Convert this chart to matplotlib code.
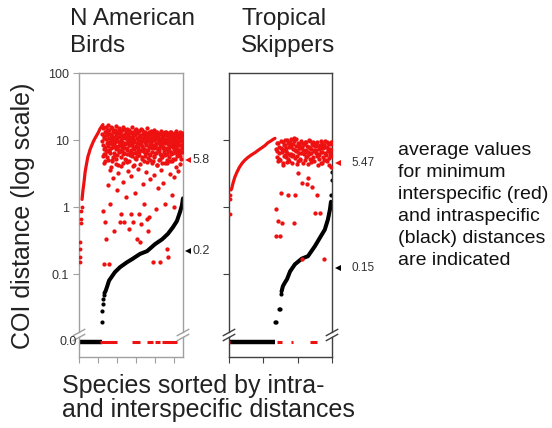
'''
barcode gap plot: min interspecific vs intraspecific COI distances
'''

import matplotlib
matplotlib.use('Agg')
import matplotlib.pyplot as plt
import numpy as np
from matplotlib.lines import Line2D
from matplotlib.ticker import NullLocator
from matplotlib.transforms import blended_transform_factory

plt.rcParams['font.family'] = ['Liberation Sans', 'DejaVu Sans']

RED = '#ee1111'
ZERO = 0.0098      # where the "0.0" row sits on the broken log axis
STEP = 2           # rank step between the sampled red scatter values

# ---- N American birds (species ranks 0..547) ----
BIRDS_N = 547
birds_black_zero = [0, 120]
birds_black_dots_x = [121, 122, 124, 126, 130]
birds_black_dots_y = [0.019, 0.028, 0.036, 0.042, 0.048]
birds_black_x = [134, 140, 147, 158, 174, 189, 216, 252, 279, 321, 358, 400,
                 437, 468, 494, 515, 531, 541, 547]
birds_black_y = [0.052, 0.056, 0.064, 0.08, 0.093, 0.107, 0.127, 0.15, 0.167,
                 0.2, 0.22, 0.28, 0.33, 0.4, 0.5, 0.62, 0.84, 1.05, 1.35]
birds_red_dots_x = [4, 5, 6, 7, 8, 10, 12, 14]
birds_red_dots_y = [0.15, 0.18, 0.24, 0.3, 0.58, 0.66, 0.87, 1.0]
birds_red_x = [16, 21, 26, 32, 37, 42, 47, 53, 58, 66, 74, 84, 95, 103, 110,
               118, 126]
birds_red_y = [1.3, 1.8, 2.3, 3.3, 4.0, 4.8, 5.7, 6.4, 7.2, 8.2, 9.3, 10.6,
               12.0, 13.2, 14.6, 15.8, 17.0]
birds_scatter_start = 122
birds_scatter = [
    12.5, 0.87, 8.4, 15.8, 6.2, 0.14, 10.9, 4.8, 0.6, 13.7,
    7.1, 0.33, 11.8, 5.5, 16.9, 2.1, 9.2, 0.14, 6.8, 14.2,
    1.1, 8.9, 12.1, 3.9, 7.6, 10.4, 15.1, 5.1, 2.7, 9.8,
    6.4, 13.3, 0.44, 8.1, 11.2, 4.4, 16.2, 7.3, 1.8, 10.1,
    5.9, 12.8, 3.2, 9.5, 14.6, 6.9, 0.6, 11.5, 8.3, 4.1,
    0.78, 13.9, 7.8, 10.7, 2.4, 6.1, 15.4, 9.1, 0.6, 12.3,
    5.3, 8.7, 1.4, 11.9, 7.2, 14.8, 4.7, 10.2, 3.5, 9.4,
    0.47, 12.6, 6.6, 8.5, 13.1, 2.9, 0.78, 10.6, 5.7, 15.6,
    7.9, 0.6, 11.3, 4.3, 9.9, 6.3, 14.1, 1.6, 8.2, 12.9,
    5.2, 0.33, 10.8, 7.4, 13.6, 3.7, 0.78, 9.3, 6.7, 11.7,
    0.3, 8.8, 0.56, 14.4, 5.6, 10.3, 2.2, 7.7, 12.2, 4.9,
    1.1, 9.6, 6.5, 13.4, 8.6, 3.3, 11.1, 0.66, 7.1, 15.2,
    5.4, 0.44, 10.5, 8.0, 0.7, 12.7, 6.0, 2.6, 9.7, 13.8,
    4.6, 11.4, 7.5, 0.15, 10.0, 5.8, 14.0, 3.0, 8.4, 12.0,
    6.4, 0.93, 9.0, 13.2, 4.2, 11.6, 7.0, 1.9, 10.4, 5.0,
    12.4, 0.15, 8.1, 6.2, 13.5, 3.6, 9.8, 11.0, 5.5, 7.6,
    2.3, 12.9, 6.8, 10.1, 1.1, 8.9, 4.5, 13.0, 7.3, 9.3,
    5.1, 0.24, 11.8, 6.9, 0.18, 12.5, 8.0, 3.1, 10.7, 4.8,
    9.5, 13.3, 6.1, 1.5, 11.2, 7.8, 5.3, 12.1, 2.8, 8.6,
    1.0, 10.6, 6.6, 13.7, 4.0, 9.1, 7.4, 11.9, 5.7, 3.4,
    12.3, 8.3, 6.3, 10.9, 4.4, 13.1, 7.0, 9.9, 5.2, 11.4, 6.7, 12.8, 8.1]
# a second sample of the same ranks (offset by one) for the dense upper band
birds_scatter_b = [
    9.6, 5.7, 14.9, 7.4, 11.3, 4.6, 13.2, 8.0, 6.1, 10.5,
    15.5, 6.9, 9.0, 12.7, 5.0, 8.2, 14.0, 7.0, 10.9, 3.6,
    12.2, 6.4, 9.9, 15.9, 4.9, 8.8, 11.6, 7.9, 13.5, 5.6,
    10.2, 8.5, 6.0, 14.3, 9.2, 12.4, 5.3, 10.8, 7.5, 13.0,
    8.1, 4.3, 11.0, 6.6, 9.4, 15.0, 7.2, 12.9, 5.5, 10.0,
    13.7, 6.8, 9.5, 4.5, 11.9, 8.4, 6.3, 14.5, 7.6, 10.6,
    12.0, 5.1, 8.9, 13.4, 6.2, 10.3, 7.7, 11.4, 9.1, 4.8,
    14.2, 8.3, 5.9, 11.1, 7.1, 12.6, 9.7, 6.5, 13.1, 8.7,
    10.4, 4.1, 12.3, 7.3, 9.3, 5.4, 11.7, 8.0, 14.7, 6.7,
    9.0, 12.8, 5.8, 10.1, 7.8, 13.6, 6.0, 11.2, 8.6, 4.4,
    11.5, 7.0, 9.8, 13.9, 5.2, 8.2, 12.1, 6.9, 10.7, 7.4,
    13.3, 5.7, 9.2, 11.8, 6.4, 10.0, 8.5, 12.5, 4.7, 9.6,
    7.2, 11.3, 6.1, 13.0, 8.8, 5.0, 10.6, 7.9, 12.2, 9.4,
    6.6, 10.9, 4.9, 8.3, 12.7, 7.5, 9.9, 5.6, 11.6, 8.1,
    13.4, 6.3, 10.2, 7.6, 4.2, 11.0, 8.9, 12.4, 6.8, 9.3,
    7.3, 10.5, 5.3, 12.9, 8.4, 6.0, 11.4, 9.5, 4.6, 10.8,
    8.0, 12.0, 6.5, 9.1, 13.2, 5.9, 10.3, 7.7, 11.7, 6.2,
    9.7, 4.5, 11.2, 8.6, 12.6, 7.0, 5.5, 10.0, 8.2, 13.0,
    6.7, 10.7, 8.8, 4.9, 12.2, 9.0, 6.4, 11.5, 7.4, 10.1,
    12.8, 5.2, 9.4, 7.8, 11.1, 6.1, 10.4, 8.5, 12.5, 6.9,
    9.2, 11.8, 7.1, 5.7, 10.6, 8.3, 12.1, 6.6, 9.8, 7.5, 11.3, 8.7, 10.0]
birds_red_zero = [(110, 200), (279, 321), (358, 389), (400, 426), (437, 515)]
birds_means = ['5.8', '0.2']
birds_mean_pos = [5.1, 0.22]

# ---- Tropical skippers (species ranks 0..300) ----
SKIP_N = 300
skip_black_zero = [0, 134]
skip_black_dots_x = [133, 136, 145, 148, 151, 298, 299, 300]
skip_black_dots_y = [0.019, 0.019, 0.030, 0.030, 0.050, 1.5, 2.5, 3.3]
skip_black_x = [153, 157, 163, 169, 178, 192, 212, 230, 250, 265, 279, 288,
                294, 297]
skip_black_y = [0.055, 0.066, 0.075, 0.084, 0.11, 0.14, 0.17, 0.185, 0.26,
                0.35, 0.46, 0.65, 0.92, 1.2]
skip_red_dots_x = [2, 3, 4]
skip_red_dots_y = [0.78, 1.3, 1.5]
skip_red_x = [6, 8, 12, 17, 23, 30, 38, 46, 55, 65, 76, 86, 96, 105, 113,
              122, 128, 134]
skip_red_y = [1.8, 1.9, 2.3, 2.8, 3.3, 3.9, 4.5, 5.0, 5.5, 6.0, 6.5, 7.1,
              7.7, 8.3, 9.1, 9.7, 10.2, 10.6]
skip_scatter_start = 136
skip_scatter = [
    0.37, 0.95, 6.8, 0.61, 8.9, 5.2, 0.37, 7.6, 1.6, 0.58,
    9.4, 4.6, 7.1, 6.0, 8.3, 5.5, 9.9, 6.5, 1.5, 7.9,
    4.9, 8.6, 6.2, 10.2, 5.8, 7.3, 0.58, 10.9, 1.5, 6.9,
    8.1, 4.4, 9.0, 3.2, 6.4, 7.7, 5.3, 9.6, 2.3, 0.17,
    7.0, 8.8, 5.0, 6.6, 9.3, 2.2, 5.7, 2.7, 8.0, 6.1,
    9.8, 4.7, 7.4, 2.0, 8.5, 5.6, 7.2, 0.82, 9.1, 6.3,
    1.5, 4.2, 8.2, 5.9, 0.82, 7.5, 9.7, 4.5, 6.7, 8.4,
    5.1, 0.17, 7.8, 6.0, 9.2, 4.8, 7.0, 8.7, 5.4, 6.5,
    9.5, 4.0, 7.2]
skip_scatter_b = [
    7.4, 5.6, 9.1, 4.9, 6.3, 8.0, 5.0, 9.8, 6.6, 7.3,
    4.3, 8.4, 5.8, 10.1, 6.9, 7.7, 4.7, 8.9, 5.3, 6.2,
    9.3, 5.9, 7.9, 4.5, 8.7, 6.0, 9.6, 5.4, 7.1, 10.4,
    5.7, 6.8, 4.8, 8.3, 7.5, 5.1, 9.0, 6.4, 7.8, 4.6,
    8.6, 6.1, 9.4, 5.5, 7.0, 8.2, 4.4, 6.7, 9.9, 5.2,
    7.6, 6.5, 8.8, 5.0, 9.2, 6.9, 4.9, 8.1, 7.2, 5.8,
    9.5, 6.2, 7.4, 5.3, 8.5, 6.6, 4.6, 9.0, 7.7, 5.5,
    8.3, 6.3, 9.7, 5.1, 7.9, 6.8, 8.9, 4.2, 7.3, 6.0,
    8.6, 5.7, 9.3]
skip_red_zero = [(0, 3), (140, 154), (181, 185), (236, 256), (279, 281)]
skip_means = ['5.47', '0.15']
skip_mean_pos = [4.6, 0.122]


def spine_with_break(ax, xpos, color):
    '''draw a vertical spine in axes coords with a // break above the 0.0 row'''
    lo, hi = 0.0687, 0.0863
    ax.add_line(Line2D([xpos, xpos], [0, lo], transform=ax.transAxes,
                       color=color, lw=1.0, clip_on=False))
    ax.add_line(Line2D([xpos, xpos], [hi, 1], transform=ax.transAxes,
                       color=color, lw=1.0, clip_on=False))
    for yc in (lo, hi):
        ax.add_line(Line2D([xpos - 0.055, xpos + 0.055], [yc - 0.011, yc + 0.011],
                           transform=ax.transAxes, color=color, lw=1.0,
                           clip_on=False))


def draw_panel(ax, n, black_zero, bdx, bdy, bx, by, rdx, rdy, rx, ry,
               sc_start, scatter, scatter_b, red_zero, spine_col, means,
               mean_pos, tri_x, txt_x, mean_size):
    ax.set_yscale('log')
    ax.set_ylim(0.0058, 100)
    ax.set_xlim(0, n)

    # species with no intraspecific variation sit on the 0.0 row
    ax.plot(black_zero, [ZERO, ZERO], color='black', lw=3.2,
            solid_capstyle='butt', zorder=2)
    ax.plot(bx, by, color='black', lw=2.9, solid_capstyle='round', zorder=2)
    ax.plot(bdx, bdy, 'o', color='black', ms=3.0, mew=0, zorder=2)

    ax.plot(rx, ry, color=RED, lw=2.3, solid_capstyle='round', zorder=3)
    ax.plot(rdx, rdy, 'o', color=RED, ms=2.8, mew=0, zorder=3)
    sx = sc_start + STEP * np.arange(len(scatter))
    ax.plot(sx, scatter, 'o', color=RED, ms=3.1, mew=0, zorder=3)
    sx_b = sc_start + 1 + STEP * np.arange(len(scatter_b))
    ax.plot(sx_b, scatter_b, 'o', color=RED, ms=3.1, mew=0, zorder=3)
    for a, b in red_zero:
        ax.plot([a, b], [ZERO, ZERO], color=RED, lw=2.2,
                solid_capstyle='butt', zorder=3)

    for side in ('left', 'right'):
        ax.spines[side].set_visible(False)
    for side in ('top', 'bottom'):
        ax.spines[side].set_color(spine_col)
        ax.spines[side].set_linewidth(1.0)
    spine_with_break(ax, 0, spine_col)
    spine_with_break(ax, 1, spine_col)

    ax.set_xticks(np.arange(0, n + 1, 100))
    ax.set_xticklabels([])
    ax.yaxis.set_minor_locator(NullLocator())
    ax.tick_params(axis='both', direction='out', length=4, width=0.8,
                   color=spine_col, labelsize=9, labelcolor='#333333')

    trans = blended_transform_factory(ax.transAxes, ax.transData)
    for lab, pos, col in zip(means, mean_pos, (RED, 'black')):
        ax.plot([tri_x], [pos], marker='<', color=col, ms=5, mew=0,
                transform=trans, clip_on=False)
        ax.text(txt_x, pos, lab, transform=trans, ha='left', va='center',
                fontsize=mean_size, color='#333333')


fig = plt.figure(figsize=(5.52, 4.28), dpi=100)
ax1 = fig.add_axes([79 / 552, 1 - 357 / 428, 104 / 552, 284 / 428])
ax2 = fig.add_axes([229 / 552, 1 - 357 / 428, 103 / 552, 284 / 428])

draw_panel(ax1, BIRDS_N, birds_black_zero, birds_black_dots_x,
           birds_black_dots_y, birds_black_x, birds_black_y,
           birds_red_dots_x, birds_red_dots_y, birds_red_x, birds_red_y,
           birds_scatter_start, birds_scatter, birds_scatter_b,
           birds_red_zero, '#a0a0a0', birds_means, birds_mean_pos,
           1.05, 1.09, 9)
draw_panel(ax2, SKIP_N, skip_black_zero, skip_black_dots_x,
           skip_black_dots_y, skip_black_x, skip_black_y,
           skip_red_dots_x, skip_red_dots_y, skip_red_x, skip_red_y,
           skip_scatter_start, skip_scatter, skip_scatter_b,
           skip_red_zero, '#404040', skip_means, skip_mean_pos,
           1.06, 1.19, 8.5)

ax1.set_yticks([0.1, 1, 10, 100])
ax1.set_yticklabels(['0.1', '1', '10', '100'])
ax1.text(-0.02, ZERO, '0.0', transform=blended_transform_factory(
    ax1.transAxes, ax1.transData), ha='right', va='center', fontsize=9,
    color='#333333')
ax2.set_yticks([0.1, 1, 10])
ax2.set_yticklabels([])

fig.text(70 / 552, 1 - 8 / 428, 'N American\nBirds', ha='left', va='top',
         fontsize=17.5, color='#222222', linespacing=1.3)
fig.text(241 / 552, 1 - 8 / 428, 'Tropical\nSkippers', ha='left', va='top',
         fontsize=17.5, color='#222222', linespacing=1.3)
fig.text(0.042, 0.495, 'COI distance (log scale)', rotation=90, ha='center',
         va='center', fontsize=18, color='#222222')
fig.text(62 / 552, 1 - 374 / 428,
         'Species sorted by intra-\nand interspecific distances',
         ha='left', va='top', fontsize=18, color='#222222', linespacing=1.0)
fig.text(398 / 552, 1 - 142 / 428,
         'average values\nfor minimum\ninterspecific (red)\nand intraspecific\n'
         '(black) distances\nare indicated', ha='left', va='top',
         fontsize=14, color='#111111', linespacing=1.38)

fig.savefig('out.png', dpi=100)
